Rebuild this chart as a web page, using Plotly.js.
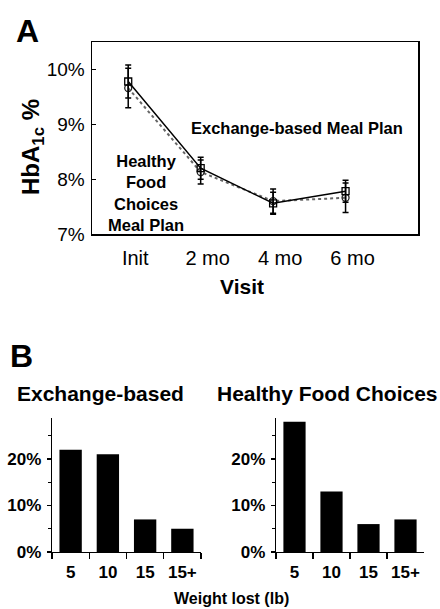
<!DOCTYPE html>
<html>
<head>
<meta charset="utf-8">
<script src="https://cdn.plot.ly/plotly-3.0.1.min.js"></script>
<style>html,body{margin:0;padding:0;background:#fff;}#chart{width:440px;height:609px;}</style>
</head>
<body>
<div id="chart"></div>
<script>
// Panel A data
const visits = ["Init", "2 mo", "4 mo", "6 mo"];
const exchangeHbA1c = [9.78, 8.20, 7.56, 7.78];
const exchangeErr = [0.30, 0.20, 0.20, 0.20];
const hfcHbA1c = [9.66, 8.13, 7.60, 7.66];
const hfcErr = [0.36, 0.22, 0.22, 0.27];
const hba1cTicks = [7, 8, 9, 10];
const hba1cTickText = ["7%", "8%", "9%", "10%"];

// Panel B data
const weightBins = ["5", "10", "15", "15+"];
const exchangeWeight = [22, 21, 7, 5];
const hfcWeight = [28, 13, 6, 7];
const pctTicks = [0, 10, 20];
const pctTickText = ["0%", "10%", "20%"];

const FONT = "Liberation Sans, Arial, Helvetica, sans-serif";
const W = 440, H = 609;
const px = v => v / W;
const py = v => 1 - v / H;

const traces = [
  {
    x: visits, y: hfcHbA1c, xaxis: 'x', yaxis: 'y', type: 'scatter', mode: 'lines+markers',
    line: {color: '#666', width: 2, dash: 'dot'},
    marker: {symbol: 'circle-open', size: 7, color: '#222', line: {width: 1.3, color: '#222'}},
    error_y: {type: 'data', array: hfcErr, visible: true, color: '#000', thickness: 1.5, width: 3},
    showlegend: false
  },
  {
    x: visits, y: exchangeHbA1c, xaxis: 'x', yaxis: 'y', type: 'scatter', mode: 'lines+markers',
    line: {color: '#000', width: 1.5},
    marker: {symbol: 'square-open', size: 7, color: '#000', line: {width: 1.3, color: '#000'}},
    error_y: {type: 'data', array: exchangeErr, visible: true, color: '#000', thickness: 1.5, width: 3},
    showlegend: false
  },
  {
    x: weightBins, y: exchangeWeight, xaxis: 'x2', yaxis: 'y2', type: 'bar',
    marker: {color: '#000'}, width: 0.6, showlegend: false
  },
  {
    x: weightBins, y: hfcWeight, xaxis: 'x3', yaxis: 'y3', type: 'bar',
    marker: {color: '#000'}, width: 0.6, showlegend: false
  }
];

const barX = dom => ({
  domain: dom, type: 'category', range: [-0.5, 3.5], showline: true, linecolor: '#000', linewidth: 1.2,
  ticks: 'outside', tickson: 'boundaries', ticklen: 6, tickcolor: '#000', tickwidth: 1.2, tickangle: 0,
  tickfont: {family: FONT, size: 17, color: '#000', weight: 'bold'}, ticklabelstandoff: 4,
  showgrid: false, zeroline: false, fixedrange: true
});
const barY = {
  domain: [py(552), py(418)], range: [0, 28.8], showline: true, linecolor: '#000', linewidth: 1.2,
  tickmode: 'array', tickvals: pctTicks, ticktext: pctTickText,
  ticks: 'outside', ticklen: 4, tickcolor: '#000', tickwidth: 1.2,
  minor: {dtick: 5, tick0: 0, ticks: 'outside', ticklen: 3, tickcolor: '#000', showgrid: false},
  tickfont: {family: FONT, size: 17, color: '#000', weight: 'bold'}, ticklabelstandoff: 2,
  showgrid: false, zeroline: false, fixedrange: true
};

const ann = (text, x, y, size, extra) => Object.assign({
  text: text, xref: 'paper', yref: 'paper', x: px(x), y: py(y), xanchor: 'center', yanchor: 'middle',
  showarrow: false, font: {family: FONT, size: size, color: '#000', weight: 'bold'}
}, extra || {});

const layout = {
  width: W, height: H,
  margin: {l: 0, r: 0, t: 0, b: 0},
  paper_bgcolor: '#fff', plot_bgcolor: '#fff',
  font: {family: FONT, color: '#000'},
  xaxis: {
    domain: [px(92), px(418)], type: 'category', range: [-0.5, 4.0],
    showline: true, mirror: true, linecolor: '#000', linewidth: 1.5, ticks: '', tickangle: 0,
    tickfont: {family: FONT, size: 20, color: '#000'}, ticklabelstandoff: 5, ticklabelshift: 7,
    showgrid: false, zeroline: false, fixedrange: true
  },
  yaxis: {
    domain: [py(234), py(42)], range: [7, 10.5],
    showline: true, mirror: true, linecolor: '#000', linewidth: 1.5,
    tickmode: 'array', tickvals: hba1cTicks, ticktext: hba1cTickText,
    ticks: 'inside', ticklen: 4, tickcolor: '#000',
    tickfont: {family: FONT, size: 19, color: '#000'}, ticklabelstandoff: 2,
    showgrid: false, zeroline: false, fixedrange: true
  },
  xaxis2: barX([px(52), px(201)]),
  yaxis2: Object.assign({}, barY, {anchor: 'x2'}),
  xaxis3: barX([px(276), px(424)]),
  yaxis3: Object.assign({}, barY, {anchor: 'x3'}),
  annotations: [
    ann('A', 27, 31, 32),
    ann('B', 21, 356, 32),
    ann('Exchange-based Meal Plan', 297, 128, 16.5),
    ann('Healthy<br>Food<br>Choices<br>Meal Plan', 146, 193, 16.5),
    ann('HbA<sub>1c</sub> %', 32, 147, 24, {textangle: -90}),
    ann('Visit', 242, 286, 21),
    ann('Exchange-based', 100, 393, 21),
    ann('Healthy Food Choices', 327, 393, 21),
    ann('Weight lost (lb)', 231, 598, 16)
  ]
};
layout.xaxis2.anchor = 'y2';
layout.xaxis3.anchor = 'y3';

Plotly.newPlot('chart', traces, layout, {displayModeBar: false, staticPlot: true});
</script>
</body>
</html>
